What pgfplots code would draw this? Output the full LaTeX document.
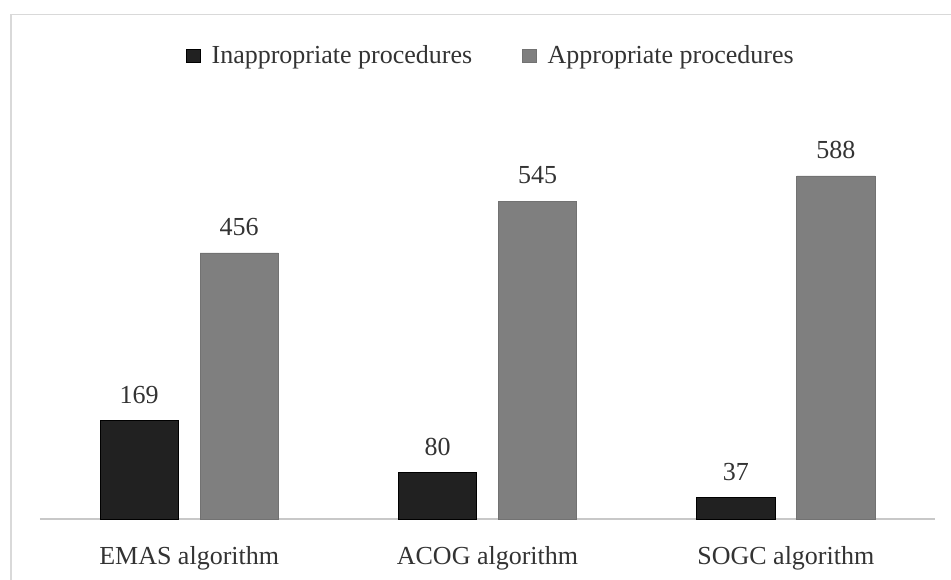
\documentclass[border=0pt]{standalone}
\usepackage{pgfplots}
\pgfplotsset{compat=1.18}
\usepackage{fontspec}
\setmainfont{Liberation Serif}
\definecolor{darkbar}{HTML}{212121}
\definecolor{graybar}{HTML}{7F7F7F}
\definecolor{framegray}{HTML}{D9D9D9}
\definecolor{basegray}{HTML}{C8C8C8}
\definecolor{txt}{HTML}{333333}
\begin{document}
\begin{tikzpicture}
\path[use as bounding box, clip] (0,0) rectangle (475.5pt,289.5pt);
\draw[framegray, line width=0.9pt] (5.3pt,282.2pt) rectangle (490pt,-10pt);
\begin{axis}[
    at={(20pt,30pt)}, anchor=south west,
    scale only axis, width=447.5pt, height=204.2pt,
    ybar, bar width=0.262,
    xmin=-0.5, xmax=2.5, ymin=0, ymax=700,
    xtick=data,
    xticklabels={EMAS algorithm, ACOG algorithm, SOGC algorithm},
    ytick=\empty,
    /pgf/number format/assume math mode=true,
    axis x line=bottom, axis y line=none,
    x axis line style={-, draw=basegray, line width=0.8pt},
    major tick length=0pt,
    xticklabel style={font=\fontsize{13}{15}\selectfont, text=txt, anchor=base, inner sep=0pt, yshift=-22.5pt},
    every node near coord/.append style={font=\fontsize{13}{15}\selectfont, text=txt, anchor=south, inner sep=0pt, yshift=8.3pt},
    legend columns=2,
    legend style={at={(axis description cs:0.505,1.134)}, anchor=center, draw=none, fill=none,
        font=\fontsize{13}{15}\selectfont, text=txt,
        /tikz/every odd column/.append style={column sep=3.5pt},
        /tikz/every even column/.append style={column sep=23pt}},
    legend image code/.code={\draw[#1] (0pt,-3.4pt) rectangle (6.8pt,3.4pt);},
]
% Inappropriate procedures
\addplot[fill=darkbar, draw=black, bar shift=-0.1676, nodes near coords]
    coordinates {(0,169) (1,80) (2,37)};
\addlegendentry{Inappropriate procedures}
% Appropriate procedures
\addplot[fill=graybar, draw=graybar!90!black, bar shift=0.1676, nodes near coords]
    coordinates {(0,456) (1,545) (2,588)};
\addlegendentry{Appropriate procedures}
\end{axis}
\end{tikzpicture}
\end{document}
